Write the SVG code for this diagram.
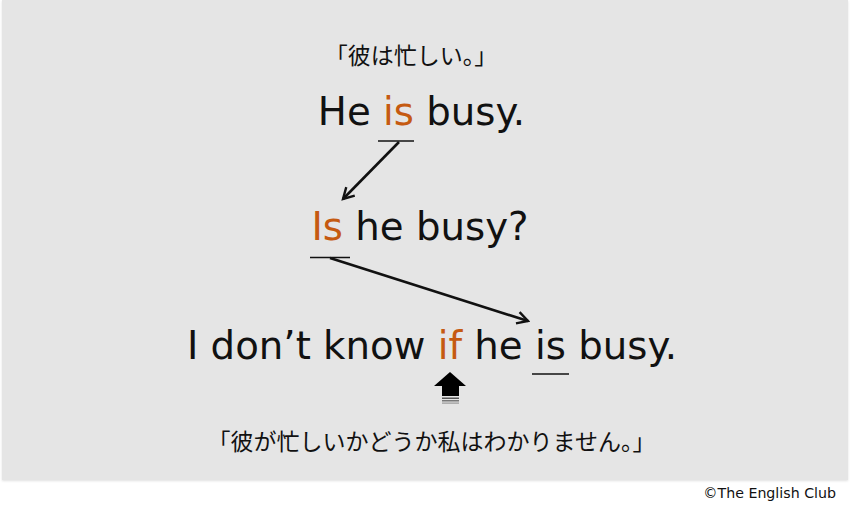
<svg xmlns="http://www.w3.org/2000/svg" width="850" height="513" viewBox="0 0 850 513">
<defs>
<style>
.en{font-family:"DejaVu Sans","Liberation Sans",sans-serif;font-size:38.7px;fill:#111}
.hl{fill:#c55a11}
.jp{font-family:"Noto Sans CJK JP","Noto Sans CJK SC",sans-serif;font-size:23px;fill:#111}
.ul{stroke:#111;stroke-width:1.6}
.arr{stroke:#111;stroke-width:2.6;fill:none;marker-end:url(#open)}
</style>
<marker id="open" viewBox="0 0 12 12" refX="10" refY="6" markerWidth="5.5" markerHeight="5.5" orient="auto" markerUnits="strokeWidth">
<path d="M1,1 L10,6 L1,11" fill="none" stroke="#111" stroke-width="2"/>
</marker>
<filter id="sh" x="-2%" y="-2%" width="104%" height="106%">
<feDropShadow dx="0" dy="1" stdDeviation="1.2" flood-color="#000" flood-opacity="0.12"/>
</filter>
</defs>
<rect x="2" y="0" width="846" height="480" fill="#e5e5e5" filter="url(#sh)"/>
<g id="jp-top"><text class="jp" x="411" y="64" text-anchor="middle">「彼は忙しい。」</text></g>
<g id="s1"><text class="en" x="421.5" y="125" text-anchor="middle">He <tspan class="hl">is</tspan> busy.</text></g>
<g id="s2"><text class="en" x="420" y="240" text-anchor="middle"><tspan class="hl">Is</tspan> he busy?</text></g>
<g id="s3"><text class="en" x="432" y="359" text-anchor="middle">I don’t know <tspan class="hl">if</tspan> he is busy.</text></g>
<g id="jp-bottom"><text class="jp" x="431.5" y="450" text-anchor="middle">「彼が忙しいかどうか私はわかりません。」</text></g>
<g id="connectors">
<line class="ul" x1="378" y1="141" x2="414" y2="141"/>
<line class="arr" x1="399" y1="142" x2="343" y2="199"/>
<line class="ul" x1="310" y1="257.5" x2="350" y2="257.5"/>
<line class="arr" x1="330" y1="258" x2="528" y2="321"/>
<line class="ul" x1="532" y1="374" x2="569" y2="374"/>
</g>
<g id="up-arrow">
<polygon points="450,372 466,386 459,386 459,396 442,396 442,386 434,386" fill="#000"/>
<rect x="442" y="397.5" width="17" height="1.5" fill="#555"/>
<rect x="442" y="400" width="17" height="1.5" fill="#777"/>
<rect x="442" y="402.5" width="17" height="1.2" fill="#999"/>
</g>
<g id="copyright"><text x="836" y="498" text-anchor="end" font-family="DejaVu Sans, sans-serif" font-size="14.2" fill="#111">©The English Club</text></g>
</svg>
